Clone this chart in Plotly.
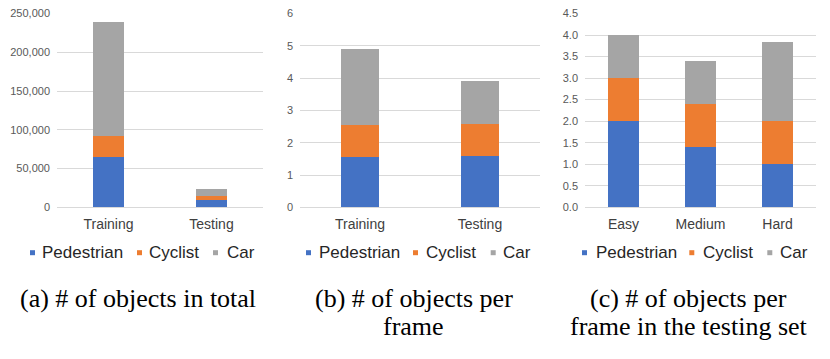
import plotly.graph_objects as go

# ---------------- data ----------------
series_names = ["Pedestrian", "Cyclist", "Car"]
series_colors = ["#4472C4", "#ED7D31", "#A5A5A5"]

cats_a = ["Training", "Testing"]
ped_a = [64500, 9000]
cyc_a = [27500, 6000]
car_a = [147000, 8000]

cats_b = ["Training", "Testing"]
ped_b = [1.56, 1.59]
cyc_b = [1.00, 1.00]
car_b = [2.35, 1.31]

cats_c = ["Easy", "Medium", "Hard"]
ped_c = [2.0, 1.4, 1.0]
cyc_c = [1.0, 1.0, 1.0]
car_c = [1.0, 1.0, 1.83]

captions_a = ["(a) # of objects in total"]
captions_b = ["(b) # of objects per", "frame"]
captions_c = ["(c) # of objects per", "frame in the testing set"]

# ---------------- layout helpers ----------------
W, H = 830, 359
def px(x):
    return x / W
def py(y):
    return 1 - y / H

SANS = "Arial, 'Liberation Sans', sans-serif"
SERIF = "'Times New Roman', 'Liberation Serif', serif"

fig = go.Figure()

panels = [
    dict(cats=cats_a, vals=[ped_a, cyc_a, car_a], width=0.31, xs="x", ys="y"),
    dict(cats=cats_b, vals=[ped_b, cyc_b, car_b], width=0.31, xs="x2", ys="y2"),
    dict(cats=cats_c, vals=[ped_c, cyc_c, car_c], width=0.40, xs="x3", ys="y3"),
]

for p in panels:
    for name, color, v in zip(series_names, series_colors, p["vals"]):
        fig.add_trace(go.Bar(
            x=p["cats"], y=v, name=name, width=p["width"],
            marker=dict(color=color, line=dict(width=0)),
            xaxis=p["xs"], yaxis=p["ys"], showlegend=False,
        ))

ydom = [py(207.3), py(13.5)]
xaxis_common = dict(showgrid=False, showline=False, zeroline=False, ticks="",
                    tickfont=dict(family=SANS, size=14, color="#404040"),
                    ticklabelstandoff=7, automargin=False, fixedrange=True)
yaxis_common = dict(showgrid=True, gridcolor="#d9d9d9", gridwidth=1,
                    zeroline=True, zerolinecolor="#d9d9d9", zerolinewidth=1,
                    showline=False, ticks="", automargin=False, fixedrange=True,
                    tickfont=dict(family=SANS, size=11, color="#595959"),
                    ticklabelstandoff=6, domain=ydom)

fig.update_layout(
    width=W, height=H, barmode="stack",
    margin=dict(l=0, r=0, t=0, b=0, pad=0, autoexpand=False),
    paper_bgcolor="white", plot_bgcolor="white",
    xaxis=dict(domain=[px(57), px(263)], anchor="y", **xaxis_common),
    xaxis2=dict(domain=[px(300), px(540)], anchor="y2", **xaxis_common),
    xaxis3=dict(domain=[px(585), px(816)], anchor="y3", **xaxis_common),
    yaxis=dict(anchor="x", range=[0, 250000], dtick=50000, tickformat=",", **yaxis_common),
    yaxis2=dict(anchor="x2", range=[0, 6], dtick=1, **yaxis_common),
    yaxis3=dict(anchor="x3", range=[0, 4.5], dtick=0.5, tickformat=".1f", **yaxis_common),
)

# ---------------- legends (manual, one per panel) ----------------
legend_pos = [
    [(30, 40), (137, 147), (213, 225)],
    [(306, 317), (413, 424), (490.7, 501)],
    [(582, 594), (689.3, 701), (767.3, 778)],
]
ly = 252.7
sq = 5
shapes = []
annotations = []
for items in legend_pos:
    for (sx, tx), name, color in zip(items, series_names, series_colors):
        shapes.append(dict(type="rect", xref="paper", yref="paper",
                           x0=px(sx), x1=px(sx + sq), y0=py(ly + sq / 2), y1=py(ly - sq / 2),
                           fillcolor=color, line=dict(width=0)))
        annotations.append(dict(text=name, xref="paper", yref="paper",
                                x=px(tx), y=py(ly), xanchor="left", yanchor="middle",
                                showarrow=False,
                                font=dict(family=SANS, size=17, color="#262626")))

# ---------------- captions ----------------
cap_specs = [
    (captions_a, 137.5),
    (captions_b, 413.5),
    (captions_c, 688.5),
]
cap_y = [298, 326]
for lines, cx in cap_specs:
    for line, yy in zip(lines, cap_y):
        annotations.append(dict(text=line, xref="paper", yref="paper",
                                x=px(cx), y=py(yy), xanchor="center", yanchor="middle",
                                showarrow=False,
                                font=dict(family=SERIF, size=26, color="black")))

fig.update_layout(shapes=shapes, annotations=annotations)

fig.write_html("out.html",
               config={"displayModeBar": False},
               post_script="document.body.style.margin='0';document.body.style.padding='0';")
